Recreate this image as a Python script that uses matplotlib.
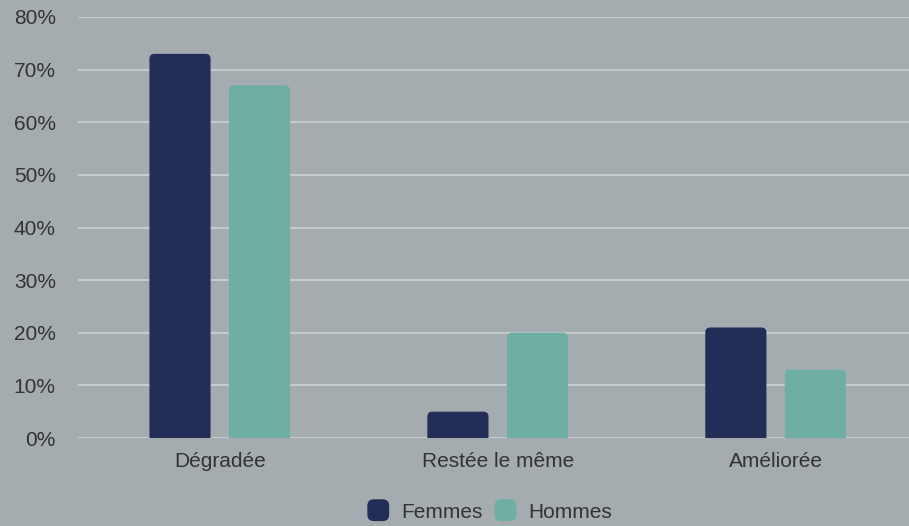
import matplotlib.pyplot as plt
from matplotlib.patches import FancyBboxPatch
from matplotlib.legend_handler import HandlerPatch
import numpy as np

categories = ['Dégradée', 'Restée le même', 'Améliorée']
femmes = [73, 5, 21]
hommes = [67, 20, 13]
series_names = ['Femmes', 'Hommes']
yticks = [0, 10, 20, 30, 40, 50, 60, 70, 80]

bg = '#a5acaf'
c_f = '#222d58'
c_h = '#6faea3'
txt = '#333333'

plt.rcParams['font.family'] = ['Liberation Sans', 'DejaVu Sans']

fig = plt.figure(figsize=(9.09, 5.26), dpi=100, facecolor=bg)
ax = fig.add_axes([78 / 909, 1 - 438 / 526, 1 - 78 / 909, (438 - 17) / 526])
ax.set_facecolor(bg)

x = np.arange(len(categories))
w = 0.22
off = 0.143
ax.set_xlim(-0.51, 2.48)
ax.set_ylim(0, 80)

# aspect of data units per pixel (y / x), used for round corners
px_w = 909 - 78
px_h = 438 - 17
aspect = (80 / px_h) / (2.99 / px_w)
r = 5 * 2.99 / px_w

for vals, col, sign in [(femmes, c_f, -1), (hommes, c_h, 1)]:
    bars = ax.bar(x + sign * off, vals, width=w, color=col, visible=False)
    for b in bars:
        p = FancyBboxPatch((b.get_x(), -3), b.get_width(), b.get_height() + 3,
                           boxstyle=f'round,pad=0,rounding_size={r}',
                           mutation_aspect=aspect, facecolor=col,
                           edgecolor='none', zorder=3)
        ax.add_patch(p)

ax.set_yticks(yticks)
ax.set_yticklabels([f'{v}%' for v in yticks])
ax.set_xticks(x)
ax.set_xticklabels(categories)
ax.tick_params(axis='y', length=0, pad=16, labelsize=15, labelcolor=txt)
ax.tick_params(axis='x', length=0, pad=10, labelsize=15, labelcolor=txt)
ax.grid(axis='y', color='#d0d4d6', linewidth=1.1, zorder=0)
ax.set_axisbelow(True)
for s in ax.spines.values():
    s.set_visible(False)


class RoundHandler(HandlerPatch):
    def create_artists(self, legend, orig_handle, xdescent, ydescent,
                       width, height, fontsize, trans):
        sz = height * 1.5
        p = FancyBboxPatch((width / 2 - sz / 2 - xdescent, height / 2 - sz / 2 - ydescent),
                           sz, sz, boxstyle=f'round,pad=0,rounding_size={sz * 0.3}',
                           facecolor=orig_handle.get_facecolor(), edgecolor='none',
                           transform=trans)
        return [p]


handles = [FancyBboxPatch((0, 0), 1, 1, facecolor=c_f), FancyBboxPatch((0, 0), 1, 1, facecolor=c_h)]
leg = fig.legend(handles, series_names, loc='center', bbox_to_anchor=(490 / 909, 1 - 512 / 526),
                 ncol=2, frameon=False, fontsize=15, labelcolor=txt,
                 handler_map={FancyBboxPatch: RoundHandler()},
                 handlelength=1.0, handletextpad=0.6, columnspacing=0.6)

fig.savefig('out.png', dpi=100, facecolor=bg)
